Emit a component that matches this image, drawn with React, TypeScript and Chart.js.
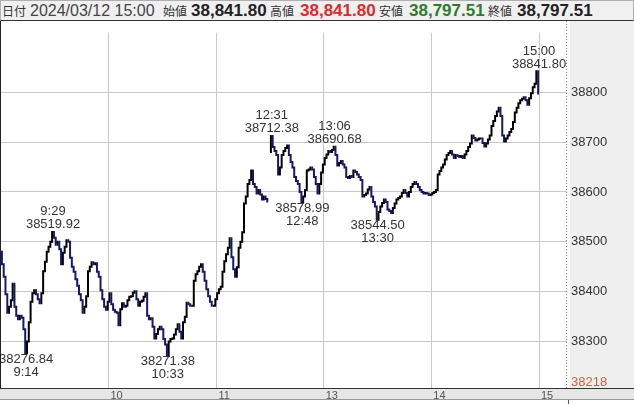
import React, { useEffect, useRef } from 'react';
import { Chart, registerables } from 'chart.js';

Chart.register(...registerables);

// Minutes after 9:00 (lunch break removed): morning starts at 0, afternoon at 150 (12:30)
const MORNING_START = 0;
const morningPrices = [
  38480, 38455, 38430, 38395, 38358, 38370, 38383, 38416, 38370, 38352,
  38345, 38352, 38348, 38325, 38276.84, 38300, 38339, 38380, 38397, 38403,
  38395, 38385, 38377, 38397, 38441, 38460, 38480, 38490, 38500, 38519.92,
  38508, 38494, 38500, 38485, 38455, 38478, 38490, 38503, 38500, 38468,
  38450, 38440, 38425, 38412, 38395, 38383, 38358, 38370, 38391, 38441,
  38450, 38459, 38455, 38457, 38440, 38430, 38403, 38385, 38370, 38364,
  38380, 38397, 38375, 38364, 38360, 38358, 38333, 38365, 38377, 38370,
  38372, 38383, 38390, 38391, 38398, 38401, 38385, 38372, 38380, 38382,
  38390, 38397, 38352, 38345, 38347, 38330, 38306, 38315, 38325, 38330,
  38325, 38305, 38294, 38271.38, 38300, 38305, 38306, 38314, 38325, 38335,
  38320, 38306, 38339, 38350, 38378, 38375, 38372, 38372, 38422, 38435,
  38441, 38450, 38455, 38440, 38422, 38405, 38391, 38380, 38372, 38372,
  38385, 38397, 38405, 38410, 38440, 38461, 38475, 38488, 38507, 38469,
  38445, 38430, 38449, 38488, 38500, 38519, 38577, 38591, 38616, 38624,
  38643, 38616, 38610, 38597, 38604, 38595, 38585, 38591, 38586, 38581,
];
const AFTERNOON_START = 150;
const afternoonPrices = [
  38680, 38712.38, 38690, 38682, 38674, 38635, 38649, 38674, 38682, 38688,
  38693, 38674, 38660, 38649, 38630, 38622, 38616, 38600, 38578.99, 38591,
  38604, 38643, 38645, 38649, 38645, 38630, 38616, 38597, 38616, 38639,
  38655, 38668, 38675, 38682, 38680, 38684, 38690.68, 38674, 38653, 38658,
  38662, 38655, 38649, 38630, 38628, 38632, 38630, 38643, 38640, 38635,
  38630, 38624, 38591, 38594, 38597, 38605, 38610, 38591, 38580, 38571,
  38544.5, 38560, 38571, 38578, 38585, 38580, 38565, 38562, 38558, 38568,
  38577, 38585, 38588, 38591, 38598, 38604, 38598, 38591, 38600, 38610,
  38616, 38620, 38616, 38610, 38604, 38600, 38597, 38598, 38597, 38594,
  38595, 38598, 38600, 38604, 38635, 38642, 38649, 38655, 38665, 38674,
  38678, 38682, 38675, 38668, 38674, 38672, 38670, 38672, 38668, 38675,
  38682, 38690, 38697, 38713, 38708, 38703, 38705, 38707, 38707, 38698,
  38691, 38697, 38705, 38713, 38732, 38742, 38752, 38761, 38769, 38752,
  38713, 38701, 38707, 38713, 38720, 38726, 38740, 38759, 38769, 38778,
  38784, 38787, 38790, 38784, 38775, 38788, 38798, 38810, 38817, 38841.8,
  38797.51,
];

const hourTicks = [60, 120, 180, 240, 300];
const hourLabels = ['10', '11', '13', '14', '15'];
const priceTicks = [38300, 38400, 38500, 38600, 38700, 38800];
const rangeLow = 38218;

const markerMinutes = [29, 14, 93, 151, 168, 186, 210, 300];
const markerValues = [38519.92, 38276.84, 38271.38, 38712.38, 38578.99, 38690.68, 38544.5, 38841.8];
const markerTimes = ['9:29', '9:14', '10:33', '12:31', '12:48', '13:06', '13:30', '15:00'];
const markerAbove = [true, false, false, true, false, true, false, true];

const headerDate = '2024/03/12 15:00';
const headerOpen = '38,841.80';
const headerHigh = '38,841.80';
const headerLow = '38,797.51';
const headerClose = '38,797.51';

const UP = '#000000';
const DOWN = '#17176b';
const GRID = '#c8c8c8';

const segColor = (ctx: any) => (ctx.p1.parsed.y >= ctx.p0.parsed.y ? UP : DOWN);

const framePlugin = {
  id: 'frame',
  beforeDraw(chart: any) {
    const { ctx, chartArea, width, height } = chart;
    ctx.save();
    ctx.fillStyle = '#ffffff';
    ctx.fillRect(0, 0, width, height);
    ctx.fillStyle = '#efefef';
    ctx.fillRect(chartArea.right + 3, 0, width - chartArea.right - 3, chartArea.bottom);
    ctx.fillStyle = '#e6e6e6';
    ctx.fillRect(0, chartArea.bottom, width, 11);
    ctx.restore();
  },
  afterDraw(chart: any) {
    const { ctx, chartArea, width, height } = chart;
    ctx.save();
    ctx.fillStyle = '#222';
    ctx.fillRect(0, 0, 1, chartArea.bottom);
    ctx.strokeStyle = '#888';
    ctx.lineWidth = 1;
    ctx.setLineDash([1, 2]);
    ctx.beginPath();
    ctx.moveTo(chartArea.right - 0.5, 0);
    ctx.lineTo(chartArea.right - 0.5, chartArea.bottom);
    ctx.stroke();
    ctx.setLineDash([]);
    ctx.strokeStyle = '#333';
    ctx.beginPath();
    ctx.moveTo(0, chartArea.bottom + 0.5);
    ctx.lineTo(width, chartArea.bottom + 0.5);
    ctx.stroke();
    ctx.strokeStyle = '#999';
    ctx.beginPath();
    ctx.moveTo(0, chartArea.bottom + 11.5);
    ctx.lineTo(width, chartArea.bottom + 11.5);
    ctx.stroke();
    ctx.strokeStyle = '#2f5fbf';
    ctx.beginPath();
    ctx.moveTo(chartArea.right + 1.5, chartArea.bottom + 12);
    ctx.lineTo(chartArea.right + 1.5, height);
    ctx.stroke();
    ctx.restore();
  },
};

const markerPlugin = {
  id: 'markers',
  afterDatasetsDraw(chart: any) {
    const { ctx } = chart;
    const xs = chart.scales.x;
    const ys = chart.scales.y;
    ctx.save();
    ctx.font = '13px "Liberation Sans", Arial, sans-serif';
    ctx.fillStyle = '#333';
    ctx.textAlign = 'center';
    ctx.textBaseline = 'middle';
    markerMinutes.forEach((m, i) => {
      const px = xs.getPixelForValue(m);
      const py = ys.getPixelForValue(markerValues[i]);
      const valText = markerValues[i].toFixed(2);
      if (markerAbove[i]) {
        ctx.fillText(markerTimes[i], px, py - 20);
        ctx.fillText(valText, px, py - 7);
      } else {
        ctx.fillText(valText, px, py + 6);
        ctx.fillText(markerTimes[i], px, py + 19);
      }
    });
    ctx.restore();
  },
};

function PriceChart() {
  const ref = useRef<HTMLCanvasElement | null>(null);
  useEffect(() => {
    if (!ref.current) return;
    const common = {
      borderColor: DOWN,
      borderWidth: 2,
      pointRadius: 0,
      tension: 0,
      stepped: 'middle',
      borderJoinStyle: 'miter',
      borderCapStyle: 'butt',
      segment: { borderColor: segColor },
    };
    const chart = new Chart(ref.current, {
      type: 'line',
      data: {
        datasets: [
          { ...common, data: morningPrices.map((p, i) => ({ x: MORNING_START + i, y: p })) },
          { ...common, data: afternoonPrices.map((p, i) => ({ x: AFTERNOON_START + i, y: p })) },
        ],
      },
      options: {
        animation: false,
        responsive: false,
        maintainAspectRatio: false,
        devicePixelRatio: 1,
        layout: { padding: { left: 1, top: 0, right: 0, bottom: 0 } },
        plugins: { legend: { display: false }, tooltip: { enabled: false } },
        scales: {
          x: {
            type: 'linear',
            position: 'bottom',
            min: 0,
            max: 315.6,
            afterBuildTicks: (s: any) => {
              s.ticks = hourTicks.map((v) => ({ value: v }));
            },
            afterFit: (s: any) => {
              s.height = 16;
            },
            grid: { color: GRID, drawTicks: false, lineWidth: 1 },
            border: { display: false },
            ticks: {
              callback: (_v: any, i: number) => hourLabels[i],
              font: { family: '"Liberation Sans", Arial, sans-serif', size: 11 },
              color: '#555',
              padding: 1,
              labelOffset: 8,
              maxRotation: 0,
              autoSkip: false,
            },
          },
          y: {
            type: 'linear',
            position: 'right',
            min: 38207,
            max: 38919,
            afterBuildTicks: (s: any) => {
              s.ticks = [rangeLow, ...priceTicks].map((v) => ({ value: v }));
            },
            afterFit: (s: any) => {
              s.width = 67;
            },
            grid: {
              color: (c: any) => (c.tick && c.tick.value === rangeLow ? 'rgba(0,0,0,0)' : GRID),
              drawTicks: false,
              lineWidth: 1,
            },
            border: { display: false },
            ticks: {
              callback: (v: any) => String(v),
              color: (c: any) => (c.tick && c.tick.value === rangeLow ? '#d4603a' : '#333'),
              font: { family: '"Liberation Sans", Arial, sans-serif', size: 13 },
              padding: 4,
              autoSkip: false,
            },
          },
        },
      },
      plugins: [framePlugin, markerPlugin],
    } as any);
    return () => chart.destroy();
  }, []);
  return <canvas ref={ref} width={634} height={383} style={{ position: 'absolute', left: 0, top: 21, width: 634, height: 383 }} />;
}

const kanji: React.CSSProperties = {
  position: 'absolute',
  top: 0,
  lineHeight: '20px',
  fontFamily: '"Noto Sans CJK JP", sans-serif',
  fontSize: 12,
  color: '#333',
};
const num: React.CSSProperties = {
  position: 'absolute',
  top: 0,
  lineHeight: '20px',
  fontFamily: '"Liberation Sans", Arial, sans-serif',
  fontSize: 17,
  fontWeight: 'bold',
  color: '#222',
};

export default function App() {
  return (
    <div style={{ position: 'fixed', left: 0, top: 0, width: 634, height: 404, background: '#fff', overflow: 'hidden' }}>
      <div
        style={{
          position: 'absolute',
          left: 0,
          top: 0,
          width: 634,
          height: 21,
          boxSizing: 'border-box',
          background: '#f0f0f0',
          borderTop: '1px solid #b0b0b0',
          borderLeft: '1px solid #b0b0b0',
          borderRight: '1px solid #b0b0b0',
          borderBottom: '1px solid #333',
          whiteSpace: 'nowrap',
        }}
      >
        <span style={{ ...kanji, left: 1 }}>日付</span>
        <span style={{ ...num, left: 29, fontWeight: 'normal', fontSize: 16, color: '#444' }}>{headerDate}</span>
        <span style={{ ...kanji, left: 162 }}>始値</span>
        <span style={{ ...num, left: 190 }}>{headerOpen}</span>
        <span style={{ ...kanji, left: 269 }}>高値</span>
        <span style={{ ...num, left: 299, color: '#e02a2a' }}>{headerHigh}</span>
        <span style={{ ...kanji, left: 378 }}>安値</span>
        <span style={{ ...num, left: 408, color: '#2b7d2b' }}>{headerLow}</span>
        <span style={{ ...kanji, left: 487 }}>終値</span>
        <span style={{ ...num, left: 516 }}>{headerClose}</span>
      </div>
      <PriceChart />
    </div>
  );
}
